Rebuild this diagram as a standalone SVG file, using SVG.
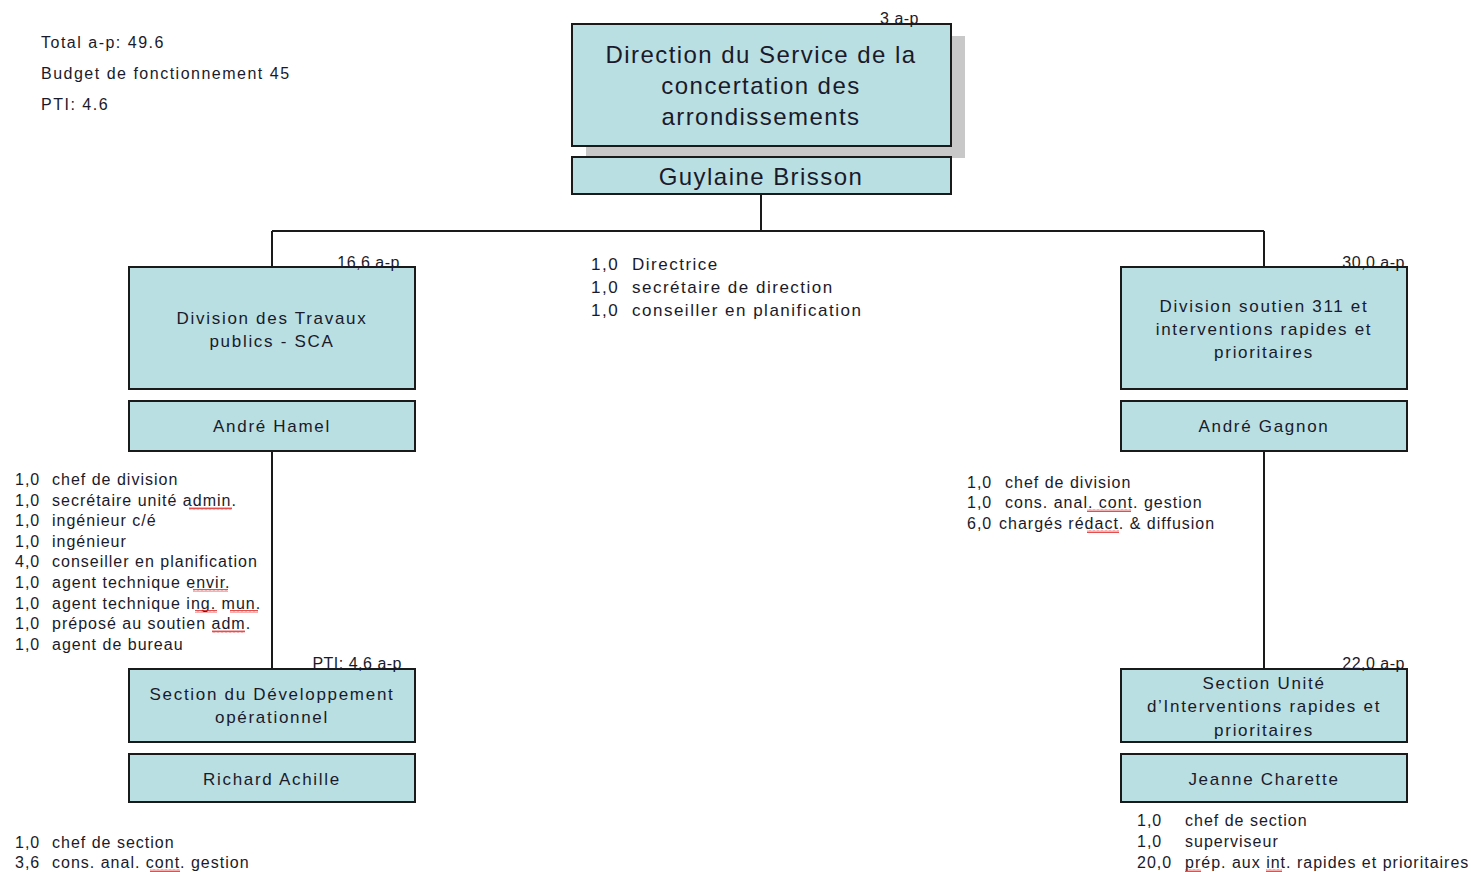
<svg xmlns="http://www.w3.org/2000/svg" width="1471" height="872" viewBox="0 0 1471 872">
<style>
.box{fill:#b9dfe3;stroke:#1a1a1a;stroke-width:2}
.shadow{fill:#c8c8c8}
.t{font-family:"Liberation Sans",Arial,sans-serif;fill:#1a1a2a}
.big{font-size:24px;text-anchor:middle;letter-spacing:1.45px}
.mid{font-size:17px;text-anchor:middle;letter-spacing:1.7px}
.sm{font-size:16px;letter-spacing:1px}
.sum{font-size:16px;letter-spacing:1.5px}
.ctr{font-size:17px;letter-spacing:1.5px}
.ap{font-size:16px;text-anchor:end;letter-spacing:0.5px}
.conn{stroke:#1a1a1a;stroke-width:2;fill:none}
.sq{fill:url(#wave)}
</style>
<defs>
<pattern id="wave" width="4" height="3" patternUnits="userSpaceOnUse"><path d="M0 2.5 L1 0.5 L2 2.5 L3 0.5 L4 2.5" stroke="#e02020" stroke-width="0.8" fill="none"/></pattern>
</defs>
<rect width="1471" height="872" fill="#ffffff"/>
<g id="summary" class="t sum">
<text x="41" y="48">Total a-p: 49.6</text>
<text x="41" y="79">Budget de fonctionnement  45</text>
<text x="41" y="110">PTI: 4.6</text>
</g>
<g id="connectors" class="conn">
<path d="M761 194 V231 M272 231 H1264 M272 231 V267 M1264 231 V267 M272 451 V669 M1264 451 V669"/>
</g>
<g id="direction">
<rect class="shadow" x="586" y="36" width="379" height="122"/>
<rect class="box" x="572" y="24" width="379" height="122"/>
<text class="t ap" x="919" y="24">3 a-p</text>
<text class="t big" x="761" y="63">Direction du Service de la</text>
<text class="t big" x="761" y="94">concertation des</text>
<text class="t big" x="761" y="125">arrondissements</text>
</g>
<g id="direction-head">
<rect class="box" x="572" y="157" width="379" height="37"/>
<text class="t big" x="761" y="185">Guylaine Brisson</text>
</g>
<g id="direction-staff" class="t ctr">
<text x="591" y="270">1,0</text><text x="632" y="270">Directrice</text>
<text x="591" y="293">1,0</text><text x="632" y="293">secrétaire de direction</text>
<text x="591" y="316">1,0</text><text x="632" y="316">conseiller en planification</text>
</g>
<g id="div-tp">
<rect class="box" x="129" y="267" width="286" height="122"/>
<text class="t ap" x="400" y="268">16,6 a-p</text>
<text class="t mid" x="272" y="324">Division des Travaux</text>
<text class="t mid" x="272" y="347">publics - SCA</text>
</g>
<g id="div-tp-head">
<rect class="box" x="129" y="401" width="286" height="50"/>
<text class="t mid" x="272" y="432">André Hamel</text>
</g>
<g id="div-tp-staff" class="t sm">
<text x="15" y="485">1,0</text><text x="52" y="485">chef de division</text>
<text x="15" y="506">1,0</text><text x="52" y="506">secrétaire unité admin.</text>
<text x="15" y="526">1,0</text><text x="52" y="526">ingénieur c/é</text>
<text x="15" y="547">1,0</text><text x="52" y="547">ingénieur</text>
<text x="15" y="567">4,0</text><text x="52" y="567">conseiller en planification</text>
<text x="15" y="588">1,0</text><text x="52" y="588">agent technique envir.</text>
<text x="15" y="609">1,0</text><text x="52" y="609">agent technique ing. mun.</text>
<text x="15" y="629">1,0</text><text x="52" y="629">préposé au soutien adm.</text>
<text x="15" y="650">1,0</text><text x="52" y="650">agent de bureau</text>
<rect class="sq" x="189" y="507" width="43" height="3"/>
<rect class="sq" x="193" y="589" width="35" height="3"/>
<rect class="sq" x="195" y="610" width="22" height="3"/>
<rect class="sq" x="230" y="610" width="28" height="3"/>
<rect class="sq" x="212" y="630" width="33" height="3"/>
</g>
<g id="sec-dev">
<rect class="box" x="129" y="669" width="286" height="73"/>
<text class="t ap" x="402" y="669">PTI: 4,6 a-p</text>
<text class="t mid" x="272" y="700">Section du Développement</text>
<text class="t mid" x="272" y="723">opérationnel</text>
</g>
<g id="sec-dev-head">
<rect class="box" x="129" y="754" width="286" height="48"/>
<text class="t mid" x="272" y="785">Richard Achille</text>
</g>
<g id="sec-dev-staff" class="t sm">
<text x="15" y="848">1,0</text><text x="52" y="848">chef de section</text>
<text x="15" y="868">3,6</text><text x="52" y="868">cons. anal. cont. gestion</text>
<rect class="sq" x="150" y="869" width="30" height="3"/>
</g>
<g id="div-311">
<rect class="box" x="1121" y="267" width="286" height="122"/>
<text class="t ap" x="1405" y="268">30,0 a-p</text>
<text class="t mid" x="1264" y="312">Division soutien 311 et</text>
<text class="t mid" x="1264" y="335">interventions rapides et</text>
<text class="t mid" x="1264" y="358">prioritaires</text>
</g>
<g id="div-311-head">
<rect class="box" x="1121" y="401" width="286" height="50"/>
<text class="t mid" x="1264" y="432">André Gagnon</text>
</g>
<g id="div-311-staff" class="t sm">
<text x="967" y="488">1,0</text><text x="1005" y="488">chef de division</text>
<text x="967" y="508">1,0</text><text x="1005" y="508">cons. anal. cont. gestion</text>
<text x="967" y="529">6,0</text><text x="999" y="529">chargés rédact. &amp; diffusion</text>
<rect class="sq" x="1087" y="509" width="44" height="3"/>
<rect class="sq" x="1087" y="530" width="32" height="3"/>
</g>
<g id="sec-uirp">
<rect class="box" x="1121" y="669" width="286" height="73"/>
<text class="t ap" x="1405" y="669">22,0 a-p</text>
<text class="t mid" x="1264" y="689">Section Unité</text>
<text class="t mid" x="1264" y="712">d’Interventions rapides et</text>
<text class="t mid" x="1264" y="736">prioritaires</text>
</g>
<g id="sec-uirp-head">
<rect class="box" x="1121" y="754" width="286" height="48"/>
<text class="t mid" x="1264" y="785">Jeanne Charette</text>
</g>
<g id="sec-uirp-staff" class="t sm">
<text x="1137" y="826">1,0</text><text x="1185" y="826">chef de section</text>
<text x="1137" y="847">1,0</text><text x="1185" y="847">superviseur</text>
<text x="1137" y="868">20,0</text><text x="1185" y="868">prép. aux int. rapides et prioritaires</text>
<rect class="sq" x="1185" y="869" width="16" height="3"/>
<rect class="sq" x="1266" y="869" width="16" height="3"/>
</g>
</svg>
